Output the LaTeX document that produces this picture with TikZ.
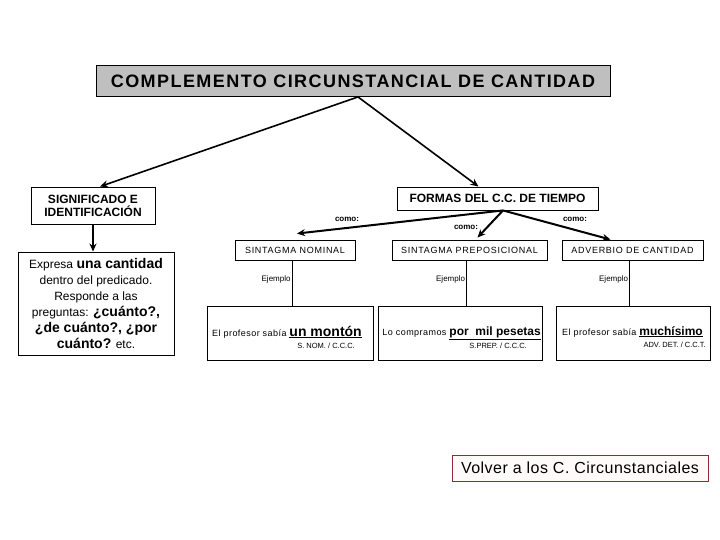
\documentclass[tikz,border=0pt]{standalone}
\usepackage{fontspec}
\setmainfont{Liberation Sans}
\usetikzlibrary{positioning,arrows.meta,calc}

\definecolor{backred}{RGB}{150,40,55}
\tikzset{
  box/.style={draw, line width=0.9pt, inner sep=0pt, fill=white},
  link/.style={-{Stealth[length=8pt,width=7pt]}, line width=2pt},
  tag/.style={font=\fontsize{8}{9}\selectfont\bfseries, inner sep=1pt},
  small/.style={font=\fontsize{9}{10}\selectfont\addfontfeature{LetterSpace=8}},
  extext/.style={font=\fontsize{9}{10}\selectfont\addfontfeature{LetterSpace=5}, anchor=base east, inner sep=0pt},
}

\begin{document}
\begin{tikzpicture}[x=1pt,y=-1pt]
  \useasboundingbox (0,0) rectangle (720,540);
  % title and first level
  \node[box, fill=black!25, minimum width=514pt, minimum height=31pt] (title) at (353,81)
    {\fontsize{18}{20}\selectfont\bfseries\addfontfeature{LetterSpace=8}COMPLEMENTO CIRCUNSTANCIAL DE CANTIDAD};
  \node[box, minimum width=124pt, minimum height=37pt, align=center,
        font=\fontsize{12}{13}\selectfont\bfseries] (sig) at (93,205.5)
    {SIGNIFICADO E\\IDENTIFICACIÓN};
  \node[box, minimum width=201pt, minimum height=23pt] (formas) at (497.5,198.5)
    {\fontsize{12}{14}\selectfont\bfseries FORMAS DEL C.C. DE TIEMPO};
  \node[box, minimum width=156pt, minimum height=103pt, align=center,
        font=\fontsize{12}{16}\selectfont] (exp) at (96,303.5)
    {Expresa {\fontsize{14}{16}\selectfont\bfseries una cantidad}\\
     dentro del predicado.\\
     Responde a las\\
     preguntas: {\fontsize{14}{16}\selectfont\bfseries ¿cuánto?,}\\
     {\fontsize{14}{16}\selectfont\bfseries ¿de cuánto?, ¿por}\\
     {\fontsize{14}{16}\selectfont\bfseries cuánto?} etc.};
  \draw[link, line width=1.6pt] (title.south) ++(5,0) coordinate (split) -- ([xshift=7pt]sig.north);
  \draw[link, line width=1.6pt] (split) -- ([xshift=-19pt]formas.north);
  \draw[link] (sig.south) -- (sig.south |- exp.north);

  % three forms
  \foreach \n/\x/\w/\t in {sn/295/120/SINTAGMA NOMINAL, sp/469.5/155/SINTAGMA PREPOSICIONAL,
                           adv/632.5/141/ADVERBIO DE CANTIDAD}{
    \node[box, small, minimum width=\w pt, minimum height=20pt] (\n) at (\x,250) {\t};
  }
  \foreach \n/\x/\w in {sn/290/166, sp/460/164, adv/633/154}{
    \node[box, minimum width=\w pt, minimum height=54pt] (ex\n) at (\x,333) {};
    \draw[line width=0.9pt] ([xshift=-3pt]\n.south) coordinate (top\n)
      -- (top\n |- ex\n.north) node[pos=0.42, left, tag, font=\fontsize{8}{9}\selectfont] {Ejemplo};
  }
  \coordinate (fork) at ([xshift=5.5pt]formas.south);
  \draw[link] (fork) -- ([xshift=2pt,yshift=6pt]sn.north);
  \draw[link] (fork) -- ([xshift=8pt,yshift=2pt]sp.north);
  \draw[link] (fork) -- ([xshift=-22pt]adv.north);
  \node[tag] (como1) at (347,219) {como:};
  \node[tag] (como2) at (466,227) {como:};
  \node[tag] (como3) at (575,219) {como:};

  % examples
  \node[extext] (txsn) at (362,336)
    {El profesor sabía \underline{\fontsize{14}{16}\selectfont\bfseries\addfontfeature{LetterSpace=0}un montón}};
  \node[tag, anchor=east, font=\fontsize{7.5}{8}\selectfont] (ansn) at (356,346) {S. NOM. / C.C.C.};
  \node[extext] (txsp) at (541,335)
    {Lo compramos \underline{\fontsize{12}{16}\selectfont\bfseries\addfontfeature{LetterSpace=0}por\ \ mil pesetas}};
  \node[tag, anchor=east, font=\fontsize{7.5}{8}\selectfont] (ansp) at (528,346) {S.PREP. / C.C.C.};
  \node[extext] (txadv) at (703,335)
    {El profesor sabía \underline{\fontsize{12}{16}\selectfont\bfseries\addfontfeature{LetterSpace=0}muchísimo}};
  \node[tag, anchor=east, font=\fontsize{7.5}{8}\selectfont] (anadv) at (707,345) {ADV. DET. / C.C.T.};

  % back link
  \node[box, draw=backred, fill=red!2, minimum width=256pt, minimum height=26pt,
        font=\fontsize{16}{18}\selectfont\addfontfeature{LetterSpace=3}] (back) at (580,468) {Volver a los C. Circunstanciales};
\end{tikzpicture}
\end{document}
